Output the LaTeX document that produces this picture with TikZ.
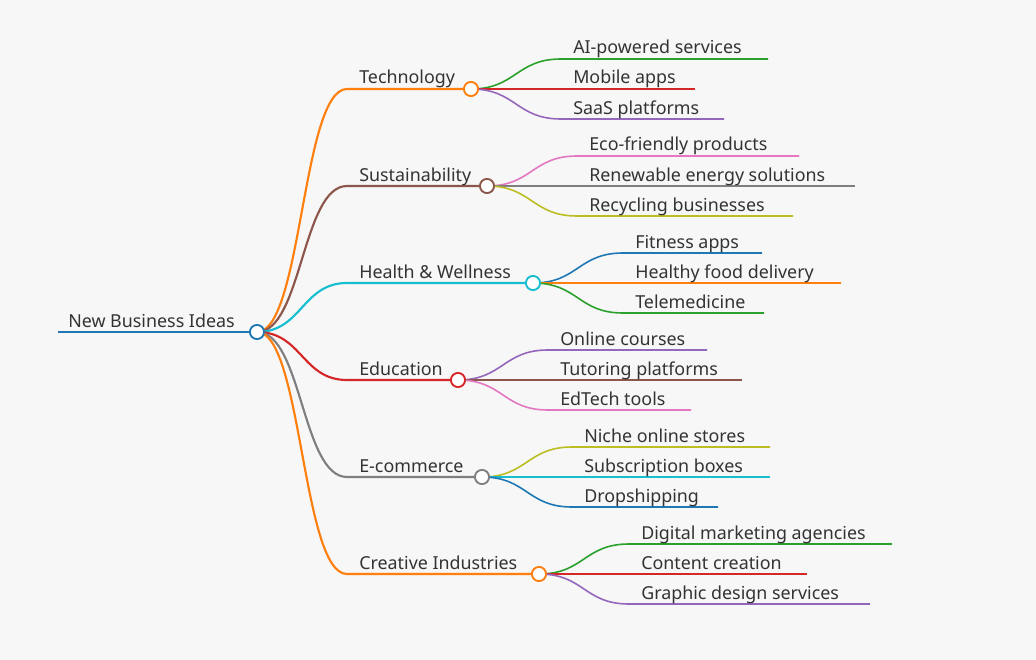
\documentclass[tikz,border=0pt]{standalone}
\usepackage{fontspec}
\setmainfont{Noto Sans}
\definecolor{cB}{HTML}{1F77B4}\definecolor{cO}{HTML}{FF7F0E}\definecolor{cG}{HTML}{2CA02C}
\definecolor{cR}{HTML}{D62728}\definecolor{cP}{HTML}{9467BD}\definecolor{cBr}{HTML}{8C564B}
\definecolor{cPk}{HTML}{E377C2}\definecolor{cGy}{HTML}{7F7F7F}\definecolor{cOl}{HTML}{BCBD22}
\definecolor{cC}{HTML}{17BECF}\definecolor{txt}{HTML}{333333}
\begin{document}
\begin{tikzpicture}[x=0.75pt,y=-0.75pt,
 lbl/.style={anchor=base west,inner sep=0pt,font=\fontsize{13.4}{15}\selectfont,text=txt},
 dot/.style={circle,draw=#1,fill=white,line width=1.3pt,minimum size=10.5pt,inner sep=0pt}]
\fill[white!97!black] (0,0) rectangle (1036,660);
\useasboundingbox (0,0) rectangle (1036,660);
\coordinate (rs) at (58,332);
\node[dot=cB] (root) at (257,332) {};
\draw[cB,line width=1.8pt] (rs) -- (root.west);
\node[lbl] (rt) at (68,327) {New Business Ideas};
\newcommand\mybranch[5]{%
 \coordinate (#1s) at (347,#3);
 \node[dot=#5] (#1) at (#4,#3) {};
 \draw[#5,line width=1.6pt] (root.center) .. controls (302,332) and (302,#3) .. (#1s) -- (#1.west);
 \node[lbl] (#1t) at (359,#3-5) {#2};
}
\newcommand\myleaf[7]{%
 \coordinate (#1a) at (#5,#4); \coordinate (#1b) at (#6,#4);
 \draw[#7,line width=1.2pt] (#2.center) .. controls ({(#3+#5)/2},\csname py#2\endcsname) and ({(#3+#5)/2},#4) .. (#1a) -- (#1b);
}
\newcommand\mytext[3]{\node[lbl] (#1t) at (#2) {#3};}
\def\pyT{89}\def\pyS{186}\def\pyH{283}\def\pyE{380}\def\pyC{477}\def\pyK{574}
\mybranch{T}{Technology}{89}{471}{cO}
\mybranch{S}{Sustainability}{186}{487}{cBr}
\mybranch{H}{Health \& Wellness}{283}{533}{cC}
\mybranch{E}{Education}{380}{458}{cR}
\mybranch{C}{E-commerce}{477}{482}{cGy}
\mybranch{K}{Creative Industries}{574}{539}{cO}
\myleaf{t1}{T}{471}{59}{561}{768}{cG}\mytext{t1}{573,54}{AI-powered services}
\myleaf{t2}{T}{471}{89}{561}{695}{cR}\mytext{t2}{573,84}{Mobile apps}
\myleaf{t3}{T}{471}{119}{561}{724}{cP}\mytext{t3}{573,114}{SaaS platforms}
\myleaf{s1}{S}{487}{156}{577}{799}{cPk}\mytext{s1}{589,151}{Eco-friendly products}
\myleaf{s2}{S}{487}{186}{577}{855}{cGy}\mytext{s2}{589,181}{Renewable energy solutions}
\myleaf{s3}{S}{487}{216}{577}{793}{cOl}\mytext{s3}{589,211}{Recycling businesses}
\myleaf{h1}{H}{533}{253}{623}{762}{cB}\mytext{h1}{635,248}{Fitness apps}
\myleaf{h2}{H}{533}{283}{623}{841}{cO}\mytext{h2}{635,278}{Healthy food delivery}
\myleaf{h3}{H}{533}{313}{623}{764}{cG}\mytext{h3}{635,308}{Telemedicine}
\myleaf{e1}{E}{458}{350}{548}{707}{cP}\mytext{e1}{560,345}{Online courses}
\myleaf{e2}{E}{458}{380}{548}{742}{cBr}\mytext{e2}{560,375}{Tutoring platforms}
\myleaf{e3}{E}{458}{410}{548}{691}{cPk}\mytext{e3}{560,405}{EdTech tools}
\myleaf{c1}{C}{482}{447}{572}{770}{cOl}\mytext{c1}{584,442}{Niche online stores}
\myleaf{c2}{C}{482}{477}{572}{770}{cC}\mytext{c2}{584,472}{Subscription boxes}
\myleaf{c3}{C}{482}{507}{572}{718}{cB}\mytext{c3}{584,502}{Dropshipping}
\myleaf{k1}{K}{539}{544}{629}{892}{cG}\mytext{k1}{641,539}{Digital marketing agencies}
\myleaf{k2}{K}{539}{574}{629}{807}{cR}\mytext{k2}{641,569}{Content creation}
\myleaf{k3}{K}{539}{604}{629}{870}{cP}\mytext{k3}{641,599}{Graphic design services}
\foreach \x/\y/\c in {257/332/cB,471/89/cO,487/186/cBr,533/283/cC,458/380/cR,482/477/cGy,539/574/cO}
 \node[dot=\c] at (\x,\y) {};
\end{tikzpicture}
\end{document}
